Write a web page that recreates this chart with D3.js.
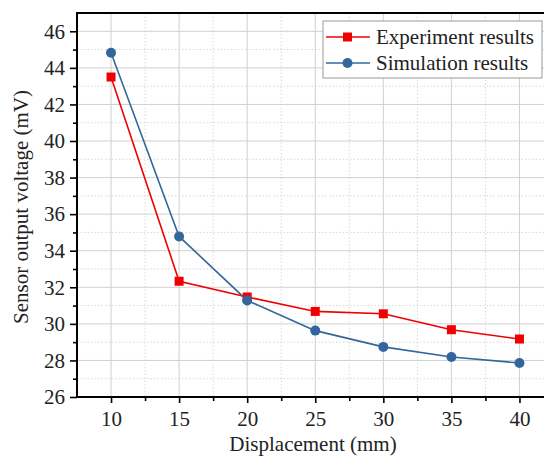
<!DOCTYPE html>
<html>
<head>
<meta charset="utf-8">
<script src="https://cdn.jsdelivr.net/npm/d3@7"></script>
<style>
  body { margin: 0; background: #fff; }
  svg { display: block; }
</style>
</head>
<body>
<svg id="chart" width="544" height="464"></svg>
<script>
// values
var displacement = [10, 15, 20, 25, 30, 35, 40];
var experiment = [43.5, 32.33, 31.47, 30.68, 30.55, 29.68, 29.17];
var simulation = [44.83, 34.78, 31.28, 29.63, 28.74, 28.19, 27.86];
var xTicks = [10, 15, 20, 25, 30, 35, 40];
var yTicks = [26, 28, 30, 32, 34, 36, 38, 40, 42, 44, 46];
var seriesNames = ["Experiment results", "Simulation results"];

var svg = d3.select("#chart");
var plotLeft = 77, plotTop = 13, plotRight = 553.5, plotBottom = 397;
var fontFamily = "Liberation Serif";
var fontSize = 21;

var x = d3.scaleLinear().domain([7.5, 42.5]).range([plotLeft, plotRight]);
var y = d3.scaleLinear().domain([26, 47]).range([plotBottom, plotTop]);

var grid = svg.append("g").attr("class", "grid");

// minor grid (dotted)
grid.selectAll(".vminor")
    .data(d3.range(12.5, 42.5, 5))
    .enter().append("line")
        .attr("x1", d => x(d)).attr("x2", d => x(d))
        .attr("y1", plotTop).attr("y2", plotBottom)
        .style("stroke", "#d8d8d8")
        .style("stroke-dasharray", "1.5,2");

grid.selectAll(".hminor")
    .data(d3.range(27, 47, 2))
    .enter().append("line")
        .attr("x1", plotLeft).attr("x2", plotRight)
        .attr("y1", d => y(d)).attr("y2", d => y(d))
        .style("stroke", "#d8d8d8")
        .style("stroke-dasharray", "1.5,2");

// major grid
grid.selectAll(".vmajor")
    .data(xTicks)
    .enter().append("line")
        .attr("x1", d => x(d)).attr("x2", d => x(d))
        .attr("y1", plotTop).attr("y2", plotBottom)
        .style("stroke", "#d0d0d0");

grid.selectAll(".hmajor")
    .data(yTicks.slice(1))
    .enter().append("line")
        .attr("x1", plotLeft).attr("x2", plotRight)
        .attr("y1", d => y(d)).attr("y2", d => y(d))
        .style("stroke", "#d0d0d0");

// axes
var xAxis = svg.append("g")
    .attr("transform", "translate(0," + plotBottom + ")")
    .call(d3.axisBottom(x).tickValues(xTicks).tickSize(6).tickPadding(8).tickFormat(d3.format("d")));

var xMinor = svg.append("g")
    .attr("transform", "translate(0," + plotBottom + ")")
    .call(d3.axisBottom(x).tickValues(d3.range(12.5, 42.5, 5)).tickSize(4).tickFormat(""));

var yAxis = svg.append("g")
    .attr("transform", "translate(" + plotLeft + ",0)")
    .call(d3.axisLeft(y).tickValues(yTicks).tickSize(7).tickPadding(5).tickFormat(d3.format("d")));

var yMinor = svg.append("g")
    .attr("transform", "translate(" + plotLeft + ",0)")
    .call(d3.axisLeft(y).tickValues(d3.range(27, 47, 2)).tickSize(4).tickFormat(""));

[xAxis, xMinor, yAxis, yMinor].forEach(function (a) {
    a.attr("font-family", fontFamily).attr("font-size", fontSize);
    a.select(".domain").remove();
    a.selectAll(".tick line").style("stroke", "#000").style("stroke-width", 1.6);
    a.selectAll(".tick text").attr("fill", "#222");
});

// spines
svg.append("line").attr("x1", plotLeft).attr("x2", plotLeft).attr("y1", plotTop - 1).attr("y2", plotBottom + 1)
    .style("stroke", "#000").style("stroke-width", 2);
svg.append("line").attr("x1", plotLeft).attr("x2", plotRight).attr("y1", plotBottom).attr("y2", plotBottom)
    .style("stroke", "#000").style("stroke-width", 2);
svg.append("line").attr("x1", plotLeft).attr("x2", plotRight).attr("y1", plotTop).attr("y2", plotTop)
    .style("stroke", "#000").style("stroke-width", 2);

// series
var redColor = "#f00000", blueColor = "#33679c";

var line = d3.line()
    .x((d, i) => x(displacement[i]))
    .y(d => y(d));

svg.append("path").datum(experiment)
    .attr("d", line).attr("fill", "none")
    .style("stroke", redColor).style("stroke-width", 1.6);

svg.append("path").datum(simulation)
    .attr("d", line).attr("fill", "none")
    .style("stroke", blueColor).style("stroke-width", 1.6);

svg.selectAll(".sq")
    .data(experiment)
    .enter().append("rect")
        .attr("x", (d, i) => x(displacement[i]) - 4.5)
        .attr("y", d => y(d) - 4.5)
        .attr("width", 9).attr("height", 9)
        .attr("fill", redColor);

svg.selectAll(".dot")
    .data(simulation)
    .enter().append("circle")
        .attr("cx", (d, i) => x(displacement[i]))
        .attr("cy", d => y(d))
        .attr("r", 5)
        .attr("fill", blueColor);

// titles
svg.append("text")
    .attr("x", 313).attr("y", 451)
    .attr("text-anchor", "middle")
    .attr("font-family", fontFamily).attr("font-size", fontSize).attr("fill", "#222")
    .text("Displacement (mm)");

svg.append("text")
    .attr("transform", "translate(28,207) rotate(-90)")
    .attr("text-anchor", "middle")
    .attr("font-family", fontFamily).attr("font-size", fontSize).attr("fill", "#222")
    .text("Sensor output voltage (mV)");

// legend
var legend = svg.append("g");
legend.append("rect")
    .attr("x", 323).attr("y", 21).attr("width", 219).attr("height", 57)
    .attr("fill", "#fff").style("stroke", "#999").style("stroke-width", 1);

var colors = [redColor, blueColor];
seriesNames.forEach(function (name, i) {
    var cy = 37 + i * 26;
    legend.append("line")
        .attr("x1", 326).attr("x2", 370).attr("y1", cy).attr("y2", cy)
        .style("stroke", colors[i]).style("stroke-width", 1.6);
    if (i == 0)
        legend.append("rect").attr("x", 343).attr("y", cy - 4.5).attr("width", 9).attr("height", 9)
            .attr("fill", colors[i]);
    else
        legend.append("circle").attr("cx", 347.5).attr("cy", cy).attr("r", 5)
            .attr("fill", colors[i]);
    legend.append("text")
        .attr("x", 376).attr("y", cy + 7)
        .attr("font-family", fontFamily).attr("font-size", fontSize).attr("fill", "#222")
        .text(name);
});
</script>
</body>
</html>
